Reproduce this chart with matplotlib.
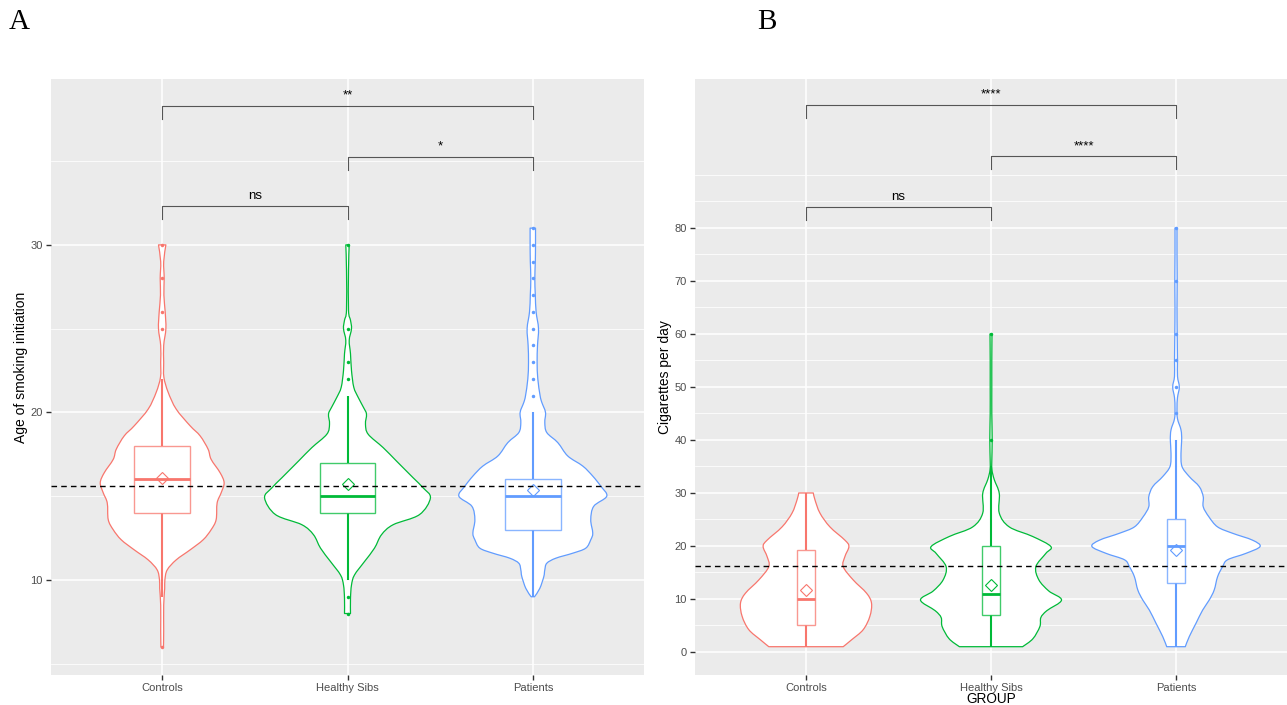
import numpy as np
import matplotlib
matplotlib.use("Agg")
import matplotlib.pyplot as plt
from matplotlib.path import Path
from matplotlib.patches import PathPatch

plt.rcParams['font.family'] = ['Liberation Sans', 'DejaVu Sans']

# ---------------- data ----------------
groups = ["Controls", "Healthy Sibs", "Patients"]
colors = ["#F8766D", "#00BA38", "#619CFF"]

# Panel A: age of smoking initiation
a_q1 = [14.0, 14.0, 13.0]
a_med = [16.0, 15.0, 15.0]
a_q3 = [18.0, 17.0, 16.0]
a_wlo = [9.0, 10.0, 9.0]
a_whi = [22.0, 21.0, 20.0]
a_mean = [16.1, 15.7, 15.4]
a_out = [[6, 25, 26, 28, 30],
         [8, 9, 22, 23, 25, 30],
         [21, 22, 23, 24, 25, 26, 27, 28, 29, 30, 31]]
a_grand = 15.6
# violin density profiles (value, half-width in px)
a_vy = [
    [6.0, 7.0, 8.5, 9.5, 10.0, 10.6, 11.2, 11.8, 12.4, 13.0, 13.6, 14.6, 15.2, 15.8,
     16.4, 17.2, 17.8, 18.6, 19.2, 20.2, 21.2, 22.1, 23.0, 24.0, 25.0, 26.0, 27.0, 28.0, 29.0, 30.0],
    [8.0, 8.9, 9.7, 10.3, 11.1, 11.9, 12.7, 13.3, 13.9, 14.9, 15.5, 16.1, 17.1, 17.9, 18.7,
     19.3, 19.9, 20.3, 20.9, 21.5, 22.5, 23.5, 24.3, 25.0, 25.5, 26.1, 28.5, 30.0],
    [9.0, 9.5, 10.2, 10.6, 11.0, 11.3, 11.6, 11.9, 12.4, 12.8, 13.6, 14.4, 15.0, 15.6, 16.2,
     16.8, 17.4, 18.2, 18.8, 19.4, 20.0, 20.6, 21.0, 22.0, 23.0, 24.0, 25.0, 26.0, 27.0, 28.0,
     29.0, 30.0, 31.0],
]
a_vw = [
    [1.3, 1.5, 1.5, 2.5, 2.7, 5, 14, 28, 41, 49, 54, 55, 59, 62, 58, 49, 46, 38, 28, 14, 6,
     1.7, 1.5, 1.5, 3.7, 3.0, 1.7, 2.0, 1.5, 3.7],
    [3, 3, 4, 7, 17, 27, 34, 45.7, 72, 83, 75.7, 65.7, 49, 35.7, 20.7, 18, 19, 16, 10.7, 6.3,
     4, 3, 1.7, 4, 3, 1, 1, 1.7],
    [1.7, 7, 11, 12, 14, 23, 40, 53, 58, 60, 58, 61, 74, 68, 60, 50, 35, 25, 14, 12, 12.7, 9,
     7.3, 5, 4.3, 4.7, 5.7, 3.3, 2.5, 2, 2.5, 2.7, 2.7],
]
a_sig = [("ns", 0, 1, 32.33), ("*", 1, 2, 35.27), ("**", 0, 2, 38.3)]

# Panel B: cigarettes per day
b_q1 = [5.0, 7.0, 13.0]
b_med = [10.0, 11.0, 20.0]
b_q3 = [19.2, 20.0, 25.0]
b_wlo = [1.0, 1.0, 1.0]
b_whi = [30.0, 35.0, 40.0]
b_mean = [11.7, 12.6, 19.2]
b_out = [[], [40, 60], [45, 50, 55, 60, 70, 80]]
b_grand = 16.2
b_vy = [
    [1.0, 2.3, 4.2, 6.7, 9.2, 11.1, 13.6, 16.1, 18.0, 19.9, 21.1, 23.6, 26.2, 28.7, 30.0],
    [1.0, 2.5, 4.8, 6.5, 7.8, 9.8, 11.5, 13.6, 16.1, 18.6, 19.9, 21.8, 23.6, 26.2, 29.9, 32.5,
     34.3, 36, 40, 45, 50, 55, 60],
    [1.0, 2.9, 5.4, 7.9, 9.8, 11.7, 14.2, 16.1, 17.4, 18.6, 19.9, 21.1, 22.4, 23.6, 25.5, 27.4,
     29.3, 31.2, 33.1, 35.0, 37.5, 40.0, 41.9, 44, 46, 48, 50, 52, 55, 60, 65, 70, 75, 80],
]
b_vw = [
    [37.3, 45.7, 57.3, 64, 65.7, 60.7, 47.3, 37.3, 39, 43, 39, 24, 14, 9, 7.3],
    [31.7, 42, 49, 50, 56, 70.7, 58, 48, 45, 55, 60, 41.7, 18.3, 8.3, 8.3, 3.3, 1.0, 0.8, 1.2,
     0.8, 0.8, 0.8, 1.0],
    [9.3, 13.3, 20, 26.7, 33.3, 38.3, 41.7, 46.7, 51.7, 70, 84.3, 76.7, 56.7, 41.7, 33, 27.3,
     27.3, 23.3, 13.3, 6, 5, 5.7, 5, 1.5, 1, 1.5, 3.3, 1.5, 1.5, 1.2, 1.0, 1.2, 1.0, 1.0],
]
b_sig = [("ns", 0, 1, 84.0), ("****", 1, 2, 93.5), ("****", 0, 2, 103.2)]

PX_PER_CAT = 185.5  # pixel spacing between categories in the picture

# ---------------- figure ----------------
fig = plt.figure(figsize=(12.87, 7.05), dpi=100)
axA = fig.add_axes([51 / 1287, 1 - 675 / 705, 593 / 1287, 596 / 705])
axB = fig.add_axes([695 / 1287, 1 - 675 / 705, 592 / 1287, 596 / 705])

GRID_BG = "#EBEBEB"


def style_axes(ax, ylim, majors, minors):
    ax.set_facecolor(GRID_BG)
    for s in ax.spines.values():
        s.set_visible(False)
    ax.set_xlim(0.4, 3.6)
    ax.set_ylim(*ylim)
    ax.set_xticks([1, 2, 3])
    ax.set_xticklabels(groups)
    ax.set_yticks(majors)
    ax.set_yticklabels([str(m) for m in majors])
    for m in minors:
        ax.axhline(m, color="white", lw=0.55, zorder=0)
    for m in majors:
        ax.axhline(m, color="white", lw=1.1, zorder=0)
    for x in [1, 2, 3]:
        ax.axvline(x, color="white", lw=1.1, zorder=0)
    ax.tick_params(axis="both", colors="#333333", length=3.5, width=1.0,
                   labelsize=8, labelcolor="#4D4D4D", pad=2.5)


def smooth_side(xs, ys):
    """Catmull-Rom -> cubic Bezier vertices through the given points."""
    pts = np.column_stack([xs, ys])
    n = len(pts)
    verts = [pts[0]]
    codes = []
    for i in range(n - 1):
        p0 = pts[i - 1] if i > 0 else pts[i]
        p1 = pts[i]
        p2 = pts[i + 1]
        p3 = pts[i + 2] if i + 2 < n else pts[i + 1]
        c1 = p1 + (p2 - p0) / 6.0
        c2 = p2 - (p3 - p1) / 6.0
        verts += [c1, c2, p2]
        codes += [Path.CURVE4] * 3
    return verts, codes


def violin_path(x, y, hw):
    rv, rc = smooth_side(x + hw, y)
    lv, lc = smooth_side((x - hw)[::-1], y[::-1])
    verts = rv + lv + [rv[0]]
    codes = [Path.MOVETO] + rc + [Path.LINETO] + lc + [Path.CLOSEPOLY]
    return Path(np.array(verts), codes)


def draw_panel(ax, q1, med, q3, wlo, whi, mean, outs, vy, vw, grand, sig,
               box_w, dy_tick, dy_text):
    for i in range(3):
        x = i + 1
        c = colors[i]
        y = np.array(vy[i], dtype=float)
        hw = np.array(vw[i], dtype=float) / PX_PER_CAT
        path = violin_path(x, y, hw)
        ax.add_patch(PathPatch(path, facecolor="white", edgecolor=c, lw=0.9, zorder=3,
                               joinstyle="round"))
        # whiskers
        ax.plot([x, x], [q3[i], whi[i]], color=c, lw=1.5, zorder=4, solid_capstyle="butt")
        ax.plot([x, x], [wlo[i], q1[i]], color=c, lw=1.5, zorder=4, solid_capstyle="butt")
        # box
        rect = plt.Rectangle((x - box_w / 2, q1[i]), box_w, q3[i] - q1[i],
                             facecolor="white", lw=1.0, zorder=4)
        rect.set_edgecolor(matplotlib.colors.to_rgba(c, 0.75))
        ax.add_patch(rect)
        ax.plot([x - box_w / 2, x + box_w / 2], [med[i], med[i]], color=c, lw=2.0, zorder=5,
                solid_capstyle="butt")
        # outliers
        if outs[i]:
            ax.plot([x] * len(outs[i]), outs[i], "o", color=c, ms=2.5, mew=0, zorder=6)
        # mean
        ax.plot([x], [mean[i]], marker="D", ms=6.5, mfc="none", mec=c, mew=0.8, zorder=7,
                linestyle="none")
    ax.axhline(grand, color="black", lw=1.0, ls=(0, (4, 3)), zorder=8)
    for label, g1, g2, yy in sig:
        x1, x2 = g1 + 1, g2 + 1
        ax.plot([x1, x1, x2, x2], [yy - dy_tick, yy, yy, yy - dy_tick], color="#555555",
                lw=0.8, zorder=8)
        ax.text((x1 + x2) / 2, yy + dy_text, label, ha="center", va="bottom",
                fontsize=9.5, color="black", zorder=9)


style_axes(axA, (4.33, 39.9), [10, 20, 30], [5, 15, 25, 35])
draw_panel(axA, a_q1, a_med, a_q3, a_wlo, a_whi, a_mean, a_out, a_vy, a_vw, a_grand, a_sig,
           box_w=0.30, dy_tick=0.78, dy_text=0.25)
axA.set_ylabel("Age of smoking initiation", fontsize=10, color="black")
axA.yaxis.label.set_verticalalignment("center")
axA.yaxis.set_label_coords((21 - 51) / 593, (675 - 367) / 596)

style_axes(axB, (-4.34, 108.1), [0, 10, 20, 30, 40, 50, 60, 70, 80],
           [5, 15, 25, 35, 45, 55, 65, 75, 85, 90])
draw_panel(axB, b_q1, b_med, b_q3, b_wlo, b_whi, b_mean, b_out, b_vy, b_vw, b_grand, b_sig,
           box_w=0.10, dy_tick=2.45, dy_text=0.8)
axB.set_ylabel("Cigarettes per day", fontsize=10, color="black")
axB.yaxis.label.set_verticalalignment("center")
axB.yaxis.set_label_coords((665 - 695) / 592, 0.5)

fig.text(991 / 1287, 1 - 699 / 705, "GROUP", fontsize=9.8, ha="center", va="center")

fig.text(19 / 1287, 1 - 22 / 705, "A", fontsize=21, family="Liberation Serif",
         ha="center", va="center")
fig.text(767 / 1287, 1 - 22 / 705, "B", fontsize=21, family="Liberation Serif",
         ha="center", va="center")

fig.savefig("out.png", dpi=100, facecolor="white")
